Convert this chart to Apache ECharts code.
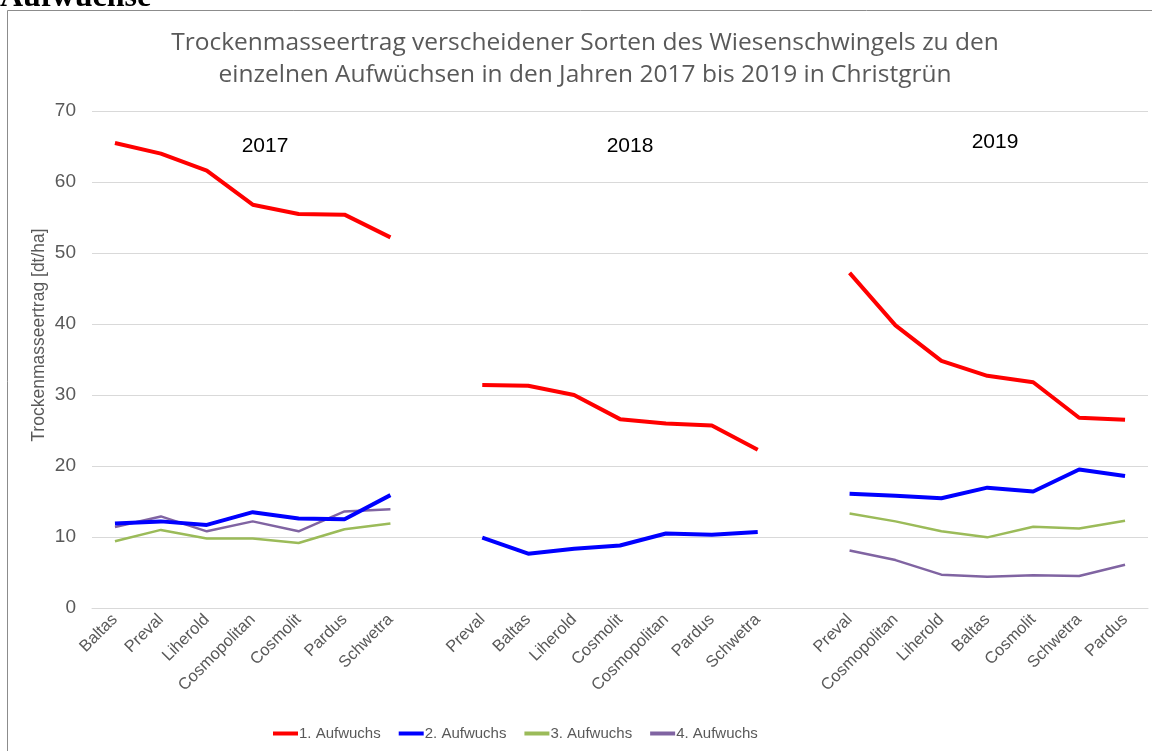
<!DOCTYPE html>
<html>
<head>
<meta charset="utf-8">
<script src="https://cdn.jsdelivr.net/npm/echarts@6/dist/echarts.min.js"></script>
<style>
  html, body { margin: 0; padding: 0; background: #fff; }
  #main { width: 1152px; height: 751px; }
</style>
</head>
<body>
<div id="main"></div>
<script>
// Sorten je Jahr, leere Kategorie als Abstand zwischen den Jahren
var sorten2017 = ['Baltas', 'Preval', 'Liherold', 'Cosmopolitan', 'Cosmolit', 'Pardus', 'Schwetra'];
var sorten2018 = ['Preval', 'Baltas', 'Liherold', 'Cosmolit', 'Cosmopolitan', 'Pardus', 'Schwetra'];
var sorten2019 = ['Preval', 'Cosmopolitan', 'Liherold', 'Baltas', 'Cosmolit', 'Schwetra', 'Pardus'];
var jahre = ['2017', '2018', '2019'];

// Trockenmasseertrag [dt/ha] je Aufwuchs (2017 | 2018 | 2019)
var aufwuchs1_2017 = [65.5, 64.0, 61.6, 56.8, 55.5, 55.4, 52.2];
var aufwuchs1_2018 = [31.4, 31.3, 30.0, 26.6, 26.0, 25.7, 22.3];
var aufwuchs1_2019 = [47.2, 39.8, 34.8, 32.7, 31.8, 26.8, 26.5];

var aufwuchs2_2017 = [11.9, 12.2, 11.7, 13.5, 12.6, 12.5, 15.9];
var aufwuchs2_2018 = [9.9, 7.65, 8.35, 8.8, 10.5, 10.3, 10.7];
var aufwuchs2_2019 = [16.1, 15.8, 15.45, 16.95, 16.4, 19.5, 18.6];

var aufwuchs3_2017 = [9.4, 11.0, 9.8, 9.8, 9.15, 11.1, 11.9];
var aufwuchs3_2018 = [null, null, null, null, null, null, null];
var aufwuchs3_2019 = [13.3, 12.2, 10.8, 9.95, 11.45, 11.2, 12.3];

var aufwuchs4_2017 = [11.4, 12.9, 10.8, 12.2, 10.8, 13.6, 13.9];
var aufwuchs4_2018 = [null, null, null, null, null, null, null];
var aufwuchs4_2019 = [8.1, 6.75, 4.7, 4.4, 4.6, 4.5, 6.1];

var serienNamen = ['1. Aufwuchs', '2. Aufwuchs', '3. Aufwuchs', '4. Aufwuchs'];
var yTicks = [0, 10, 20, 30, 40, 50, 60, 70];

function verbinden(a, b, c) {
    return a.concat([null], b, [null], c);
}

var kategorien = sorten2017.concat([''], sorten2018, [''], sorten2019);
var reihen = [
    verbinden(aufwuchs1_2017, aufwuchs1_2018, aufwuchs1_2019),
    verbinden(aufwuchs2_2017, aufwuchs2_2018, aufwuchs2_2019),
    verbinden(aufwuchs3_2017, aufwuchs3_2018, aufwuchs3_2019),
    verbinden(aufwuchs4_2017, aufwuchs4_2018, aufwuchs4_2019)
];
var farben = ['#ff0000', '#0000ff', '#9bbb59', '#8064a2'];
var breiten = [4, 4, 2.5, 2.5];

var grau = '#595959';
var schrift = '"Liberation Sans", Arial, sans-serif';
var myChart = echarts.init(document.getElementById('main'));

var series = [];
for (var i = 0; i < reihen.length; i++) {
    series.push({
        name: serienNamen[i],
        type: 'line',
        data: reihen[i],
        showSymbol: false,
        symbol: 'none',
        connectNulls: false,
        lineStyle: { color: farben[i], width: breiten[i] },
        itemStyle: { color: farben[i] },
        z: 10 - i
    });
}

function jahrText(x, y, t) {
    return {
        type: 'text', x: x, y: y,
        style: { text: t, font: '21px ' + schrift, fill: '#000', textAlign: 'center', textVerticalAlign: 'middle' }
    };
}

var option = {
    animation: false,
    backgroundColor: '#fff',
    textStyle: { fontFamily: schrift },
    grid: { left: 92, right: 4, top: 111, bottom: 143 },
    legend: {
        bottom: 5,
        left: 268,
        itemWidth: 25,
        itemHeight: 4,
        itemGap: 18,
        icon: 'rect',
        textStyle: { color: grau, fontSize: 15, padding: [0, 0, 0, -4] },
        data: serienNamen
    },
    xAxis: {
        type: 'category',
        data: kategorien,
        boundaryGap: true,
        axisLine: { lineStyle: { color: '#d9d9d9' } },
        axisTick: { show: false },
        axisLabel: {
            interval: 0,
            rotate: 45,
            color: grau,
            fontSize: 16.5,
            margin: 9
        }
    },
    yAxis: {
        type: 'value',
        min: yTicks[0],
        max: yTicks[yTicks.length - 1],
        interval: 10,
        axisLine: { show: false },
        axisTick: { show: false },
        splitLine: { lineStyle: { color: '#d9d9d9', width: 1 } },
        axisLabel: { color: grau, fontSize: 19, margin: 16 }
    },
    graphic: [
        {
            type: 'rect',
            shape: { x: 7.5, y: 10.5, width: 1160, height: 800 },
            style: { fill: 'none', stroke: '#8c8c8c', lineWidth: 1 },
            silent: true
        },
        {
            type: 'text',
            left: 0,
            top: -18,
            style: {
                text: 'Aufwüchse',
                font: 'bold 32px "Liberation Serif", serif',
                fill: '#000'
            }
        },
        {
            type: 'text',
            x: 585,
            y: 59,
            style: {
                text: 'Trockenmasseertrag verscheidener Sorten des Wiesenschwingels zu den\neinzelnen Aufwüchsen in den Jahren 2017 bis 2019 in Christgrün',
                font: '24.5px "Open Sans", Lato, sans-serif',
                fill: grau,
                textAlign: 'center',
                textVerticalAlign: 'middle',
                lineHeight: 32
            }
        },
        {
            type: 'text',
            x: 39,
            y: 335,
            rotation: Math.PI / 2,
            style: {
                text: 'Trockenmasseertrag [dt/ha]',
                font: '17.5px ' + schrift,
                fill: grau,
                textAlign: 'center',
                textVerticalAlign: 'middle'
            }
        },
        jahrText(265, 146, jahre[0]),
        jahrText(630, 146, jahre[1]),
        jahrText(995, 142, jahre[2])
    ],
    series: series
};

myChart.setOption(option);
</script>
</body>
</html>
